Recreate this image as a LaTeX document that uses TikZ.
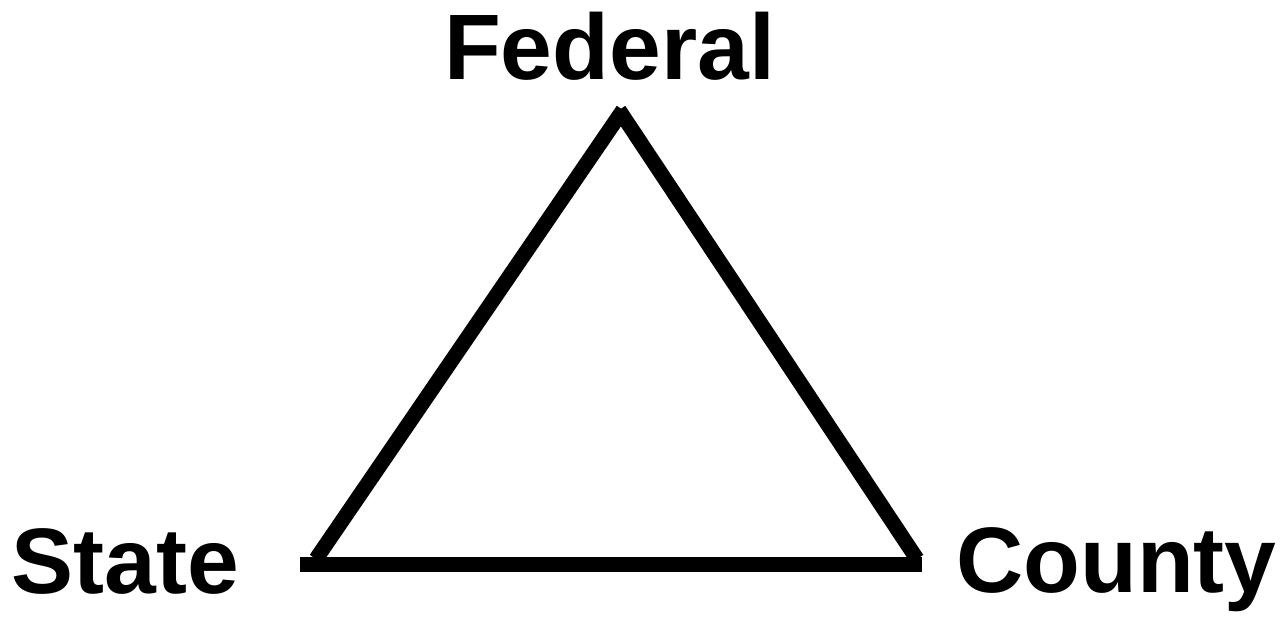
\documentclass[tikz,border=0pt]{standalone}
\usepackage{fontspec}
\setmainfont{Liberation Sans}
\begin{document}
\begin{tikzpicture}[x=1pt,y=-1pt,
  lbl/.style={anchor=base,inner sep=0pt,font=\bfseries\fontsize{93}{100}\selectfont},
  edge/.style={line width=15pt,line cap=butt,draw=black}]
\useasboundingbox (0,0) rectangle (1280,619);
\node[lbl] (fed) at (609.5,79) {Federal};
\node[lbl] (sta) at (125.5,593) {State};
\node[lbl] (cou) at (1116.5,592) {County};
\coordinate (lt) at (623,110);
\coordinate (rt) at (619,110);
\coordinate (lb) at (316,559);
\coordinate (rb) at (917,559);
\coordinate (bl) at (300,564.5);
\coordinate (br) at (922,564.5);
\draw[edge] (lb) -- (lt);
\draw[edge] (rt) -- (rb);
\draw[edge] (bl) -- (br);
\end{tikzpicture}
\end{document}
